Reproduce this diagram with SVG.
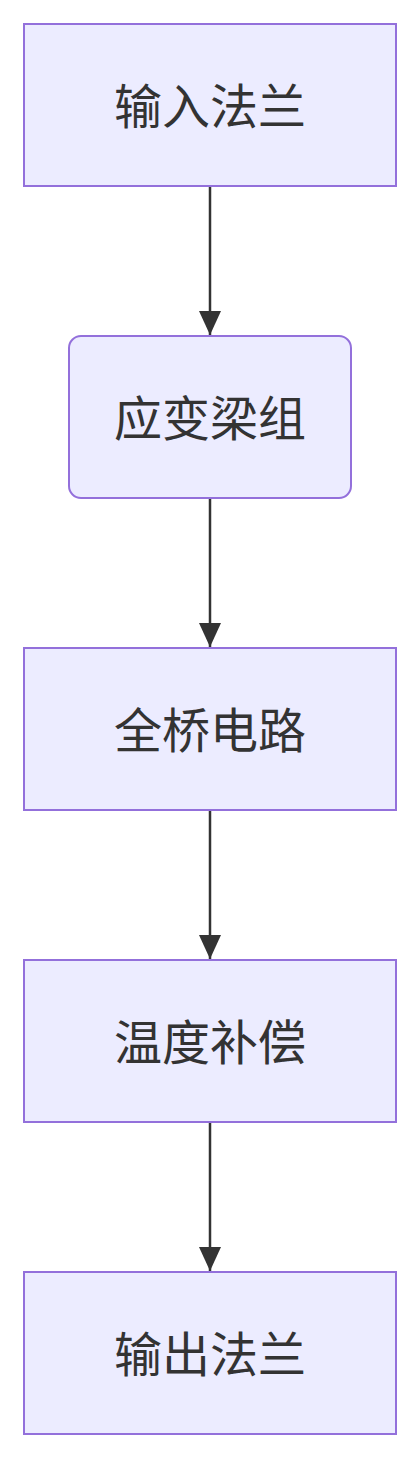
<svg xmlns="http://www.w3.org/2000/svg" width="420" height="1458" viewBox="0 0 420 1458">
<style>
.n{fill:#ECECFF;stroke:#9370DB;stroke-width:2}
.t{font-family:"Noto Sans CJK SC","Liberation Sans",sans-serif;font-size:48px;fill:#333333;text-anchor:middle;dominant-baseline:central}
.e{stroke:#333333;stroke-width:2.5;fill:none}
</style>
<defs>
<marker id="ah" viewBox="0 0 24 22" refX="24" refY="11" markerWidth="24" markerHeight="22" markerUnits="userSpaceOnUse" orient="auto">
<path d="M0,0 L24,11 L0,22 Z" fill="#333333"/>
</marker>
</defs>
<rect width="420" height="1458" fill="#ffffff"/>
<g id="edges">
<line class="e" x1="210" y1="186" x2="210" y2="335" marker-end="url(#ah)"/>
<line class="e" x1="210" y1="498" x2="210" y2="647" marker-end="url(#ah)"/>
<line class="e" x1="210" y1="810" x2="210" y2="959" marker-end="url(#ah)"/>
<line class="e" x1="210" y1="1122" x2="210" y2="1271" marker-end="url(#ah)"/>
</g>
<g id="n1"><rect class="n" x="24" y="24" width="372" height="162"/><text class="t" x="210" y="103">输入法兰</text></g>
<g id="n2"><rect class="n" x="69" y="336" width="282" height="162" rx="12" ry="12"/><text class="t" x="210" y="415">应变梁组</text></g>
<g id="n3"><rect class="n" x="24" y="648" width="372" height="162"/><text class="t" x="210" y="727">全桥电路</text></g>
<g id="n4"><rect class="n" x="24" y="960" width="372" height="162"/><text class="t" x="210" y="1039">温度补偿</text></g>
<g id="n5"><rect class="n" x="24" y="1272" width="372" height="162"/><text class="t" x="210" y="1351">输出法兰</text></g>
</svg>
